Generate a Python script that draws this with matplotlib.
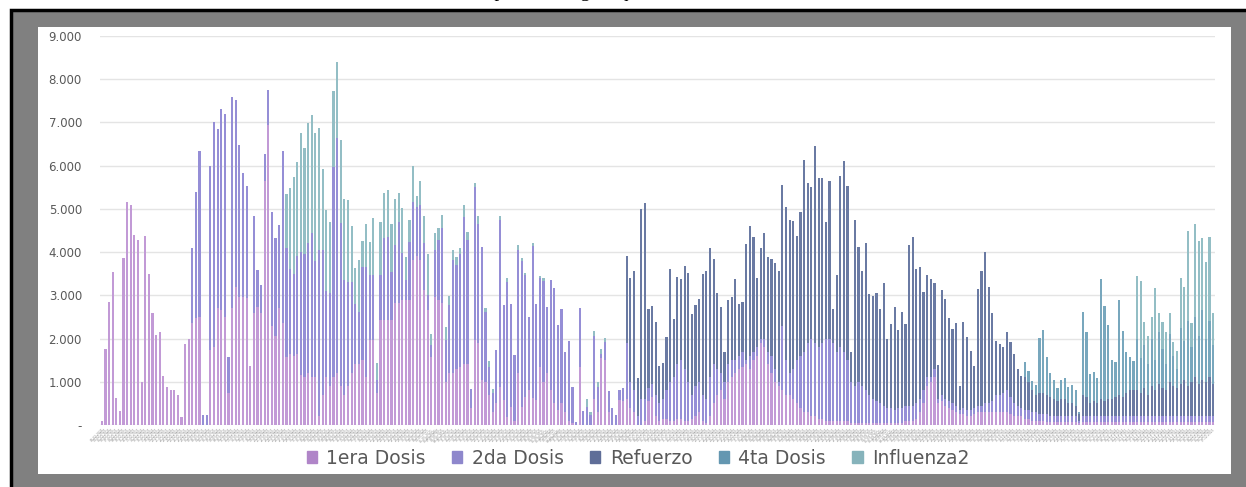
import matplotlib.pyplot as plt
import numpy as np
import pandas as pd
from matplotlib.patches import Rectangle, Patch

# daily doses (stacked), 308 days
dosis1 = [
    100, 1750, 2850, 3550, 620, 320, 3870, 5150, 5080, 4400, 4280, 1000, 4380, 3500, 2580, 2080, 2150, 1130, 870, 820,
    800, 700, 180, 1870, 2000,
    2350, 2470, 2500, 0, 0, 1740, 1810, 2700, 2650, 2500, 730, 2700, 3200, 2970, 2970, 2930, 1370, 2580, 2740, 2580,
    5650, 6950, 2300, 2050, 2700, 2350,
    1580, 1650, 1600, 1650, 1150, 1100, 1200, 1100, 1100, 200, 700, 1100, 900, 1100, 1200, 900, 700, 900, 1200, 1400,
    1400, 1500, 1120, 1970, 1970, 730,
    2430, 2430, 2430, 2430, 2820, 2820, 2900, 2900, 2900, 3820, 3900, 3820, 3125, 2660, 1580, 2970, 2900, 2820, 1000,
    1200, 1200, 1300, 1350, 1400, 1400,
    400, 1970, 1900, 1040, 1000, 700, 300, 500, 890, 580, 190, 420, 100, 1200, 420, 650, 800, 620, 570, 1350, 1000,
    1200, 800, 500, 350, 500, 300, 100, 50, 0, 1350, 0, 0, 0, 600, 300, 1540, 1500, 300, 0, 0, 580, 560,
    600, 400, 300, 0, 0, 100, 550, 650, 200,
    100, 150, 150, 100, 100, 150, 150, 100, 100, 150, 200, 300, 100, 50, 200, 500, 700, 800, 600, 1000, 1100, 1200,
    1300, 1350, 1400, 1300, 1500, 1600, 1900, 1800, 1400, 1200, 1000, 900, 800, 700, 700, 600, 500, 400, 300, 300,
    200, 200, 150, 150, 100, 100, 100, 100, 100, 100, 100,
    50, 50, 50, 50, 50, 50, 50, 50, 50, 50, 50, 50, 50, 50, 50,
    100, 100, 100, 150, 300, 500, 900, 1000, 1100,
    500, 550, 450, 400, 350, 300, 250, 250, 200, 200, 250, 300, 300, 300, 300, 300, 300, 300, 300, 300, 250, 200,
    200, 200,
    150, 150, 100, 100, 100, 100, 80, 80, 80, 80, 80, 80, 80, 80, 80, 50,
    80, 80, 80, 80, 80, 80, 80, 80, 80, 80, 80, 80, 80, 80, 80, 80, 80, 80, 80, 80,
    80, 80, 80, 80, 80, 80, 80, 80, 80, 80, 80, 80, 80, 80, 80, 80, 80,
]

dosis2 = [0] * 25 + [
    1750, 2910, 3850, 230, 240, 4260, 5210, 4150, 4650, 4700, 850, 4900, 4320, 3510, 2850, 2590, 0, 2250, 840, 670,
    620, 800, 2630, 2270, 1920, 4000,
    2520, 1950, 1900, 2250, 2850, 2850, 3000, 3350, 2700, 3850, 3350, 2000, 2150, 4875, 5430, 3765, 2655, 2415, 2120,
    1400, 1220, 2160, 2540, 1500, 1500, 310,
    1040, 1890, 1930, 1120, 1350, 1880, 1070, 460, 1340, 1350, 1150, 1270, 1075, 340, 270, 1080, 1380, 1730, 970,
    1580, 2620, 2400, 2600, 3420, 2880,
    425, 3530, 2760, 3070, 1620, 650, 430, 1235, 3860, 2195, 3110, 2370, 1520, 2860, 3380, 2830, 1690, 3530, 2230,
    2050, 2330, 1520, 2550, 2675, 1960, 2175, 1400, 1850, 840, 80, 1350, 330, 420, 230, 1450, 590, 100, 430, 490,
    385, 230, 230, 305,
    1300, 600, 500, 200, 600, 500, 300, 300, 500,
    400, 450, 650, 900, 1000, 1250, 1350, 1200, 900, 550, 700, 700, 600, 550, 900, 900, 600, 400, 400, 400, 400, 300,
    300, 350, 100, 300, 200, 200, 100, 200, 300, 400, 300, 100, 1500, 800, 500, 700, 1000, 1200, 1400, 1600, 1800,
    1700, 1650, 1750, 1900, 1900, 1800, 1600, 1700, 1600, 1400, 950, 850, 950, 850, 750, 650, 550, 500, 450, 400,
    350, 350, 300, 350, 350, 350, 350, 350, 350, 300, 300, 200, 100, 200,
    100, 150, 150, 150, 150, 150, 100, 150, 150, 150, 150, 150, 150, 200, 200, 250, 400, 400, 450, 500, 400, 300,
    250, 200,
    200, 200, 200, 200, 150, 150, 170, 120, 120, 120, 120, 120, 120, 120, 120, 50,
    120, 120, 120, 120, 120, 120, 120, 120, 120, 120, 120, 120, 120, 120, 120, 120, 120, 120, 120, 120,
    120, 120, 120, 120, 120, 120, 120, 120, 120, 120, 120, 120, 120, 120, 120, 120, 120,
]

refuerzo = [0] * 145 + [
    2015, 2410, 2760, 880, 4395, 4540, 1840, 1800, 1690,
    870, 840, 1240, 2610, 1360, 2030, 1870, 2380, 2520, 1870,
    1875, 1915, 2790, 2970, 2995, 2430, 1745, 1540, 680, 1490,
    1470, 1870, 1200, 1145, 2685, 3000, 2650, 1610, 2100, 2450,
    2190, 2250, 2440, 2570, 3250, 3550, 3540, 3425, 2870, 3335,
    4420, 3710, 3500, 4560, 3920, 3820, 2700, 3650, 790, 1770,
    3970, 4410, 4035, 680, 3840, 3125, 2670, 3420, 2320, 2385,
    2510, 2175, 2825, 1590, 1935, 2370, 1800, 2220, 1885, 3705,
    3900, 3115, 3060, 2285, 2370, 2285, 1975,
    790, 2420, 2305, 1915, 1720, 1915, 550, 1975, 1695, 1370, 970, 2690, 3120, 3510, 2685, 2035, 1250, 1165, 1060,
    1360, 1260, 1135, 855, 735,
    750, 650, 500, 400, 500, 500, 450, 450, 400, 350, 400, 400, 300, 300, 250, 150,
    500, 450, 300, 350, 300, 400, 350, 400, 400, 450, 500, 450, 550, 600, 600,
    600, 550, 650, 500, 700, 600, 750, 650, 600, 800, 700, 650, 750, 850, 700, 800, 900, 750, 850, 800, 900, 750,
]

dosis4 = [0] * 255 + [
    365, 255, 225, 220, 1255, 1450, 865, 560, 435, 300, 440, 495, 390, 425, 360, 50,
    1920, 1510, 670, 670, 580, 2770, 2210, 1710, 905, 815, 2185, 1530, 950, 765, 690,
    1200, 800, 1000, 700, 1100, 700, 1200, 900, 600, 1100, 700, 450, 1300, 900, 1500, 800, 1400, 1100, 1600, 1000,
    1300, 900,
]

influenza2 = [0] * 51 + [
    1250, 1880, 2230, 2180, 2750, 2450, 2780, 2730, 2950, 2830, 1880, 1870, 1650, 1750, 1760, 1925, 1885, 1885, 1280,
    840, 1200, 600, 1000, 770, 1310, 390,
    1230, 1050, 1080, 1090, 1070, 660, 1060, 520, 500, 830, 250, 560, 630, 960, 250, 400, 280, 320, 300, 210, 240,
    190, 150, 260, 180,
    0, 110, 180, 0, 80, 130, 95, 0, 85, 0, 90, 0, 0, 100, 55, 30, 0, 70, 0, 50, 60,
    0, 0, 0, 0, 0, 0, 0, 0, 0, 0, 0,
    170, 80, 130, 110, 120, 90, 0, 0, 0, 0, 0,
] + [0] * 141 + [
    1455, 1780, 525, 665, 505, 1660, 450, 640, 745, 500, 310, 420, 1140, 1240, 2100, 550, 2155, 2205, 1670, 1760,
    1940, 735,
]

nombres = ['1era Dosis', '2da Dosis', 'Refuerzo', '4ta Dosis', 'Influenza2']
fechas = pd.date_range('2021-02-03', periods=len(dosis1)).strftime('%d-%m-%Y')

colores = ['#c29ad6', '#958ed6', '#6a7aa3', '#78a7bd', '#93bec5']
leyenda = ['#b085c8', '#8e87cc', '#5f6e98', '#6497b1', '#86b3bb']

W, H = 1246, 487
fig = plt.figure(figsize=(W / 100, H / 100), dpi=100)
fig.patch.set_facecolor('white')


def box(x0, y0, x1, y1, **kw):
    fig.add_artist(Rectangle((x0 / W, 1 - y1 / H), (x1 - x0) / W, (y1 - y0) / H,
                             transform=fig.transFigure, zorder=-10, **kw))


# cut-off line of document text at the very top (only its lower edge shows)
fig.text(18 / W, 1 + 3 / H,
         'de la vacuna contra la influenza fue menor en relación a la esperada, al igual que la cuarta dosis.',
         fontsize=14, family='Liberation Serif', va='baseline')

box(11, 10, 1260, 500, facecolor='#808080', edgecolor='black', linewidth=2.5)
box(38, 27, 1231, 474, facecolor='white', edgecolor='none')

ax = fig.add_axes([100 / W, 1 - 425 / H, 1115 / W, 389 / H])
ax.set_facecolor('white')

x = np.arange(len(dosis1))
base = np.zeros(len(x))
for vals, col in zip([dosis1, dosis2, refuerzo, dosis4, influenza2], colores):
    v = np.array(vals, dtype=float)
    m = v > 0
    ax.bar(x[m], v[m], width=0.6, bottom=base[m], color=col, linewidth=0)
    base += v

ax.set_xlim(-0.5, len(x) - 0.5)
ax.set_ylim(0, 9000)
ax.set_yticks(range(0, 9001, 1000))
ax.set_yticklabels(['-'] + ['{}.000'.format(k) for k in range(1, 10)])
ax.yaxis.grid(True, color='#e4e4e4', linewidth=1)
ax.set_axisbelow(True)
for s in ax.spines.values():
    s.set_visible(False)
ax.tick_params(axis='y', length=0, pad=13, labelsize=8.5, labelcolor='#595959')
ax.set_xticks(x)
ax.set_xticklabels(fechas, rotation=45, ha='right', rotation_mode='anchor', fontsize=2.2, color='#8c8c8c')
ax.tick_params(axis='x', length=0, pad=2)

handles = [Patch(color=c) for c in leyenda]
fig.legend(handles, nombres, loc='center', bbox_to_anchor=(638 / W, 1 - 458 / H), ncol=5, frameon=False,
           fontsize=13.5, labelcolor='#595959', handlelength=0.55, handleheight=0.55, handletextpad=0.5,
           columnspacing=1.4)

fig.savefig('out.png', dpi=100)
